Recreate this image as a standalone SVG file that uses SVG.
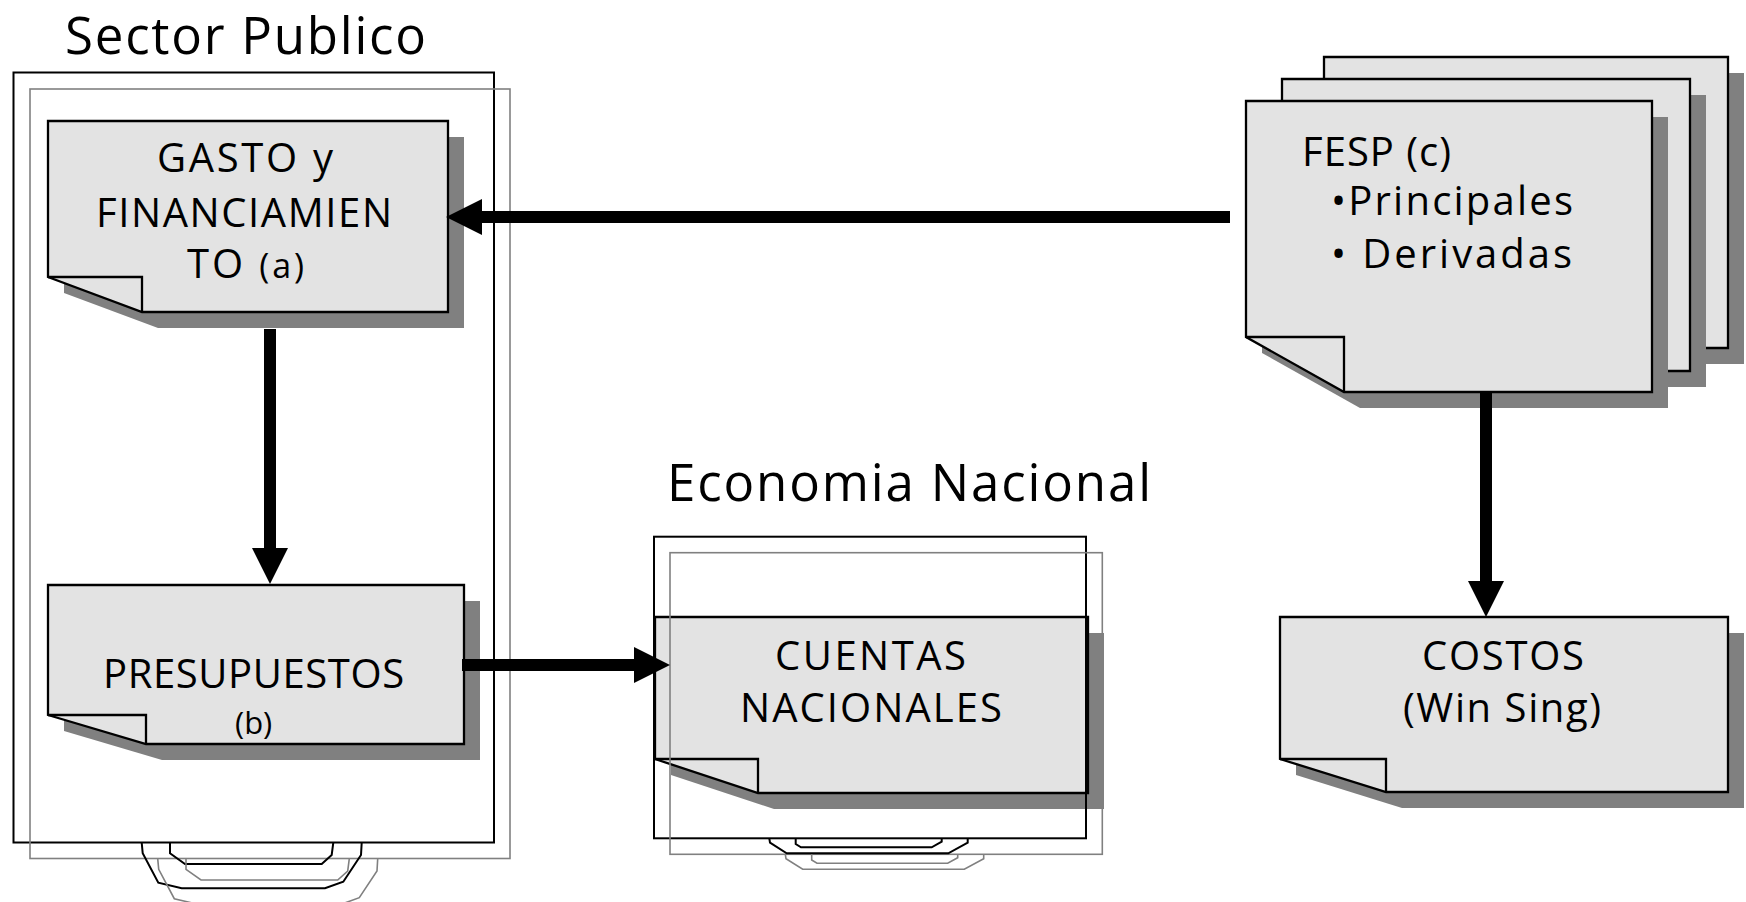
<svg xmlns="http://www.w3.org/2000/svg" width="1746" height="902" viewBox="0 0 1746 902">
<style>
.doc{fill:#e3e3e3;stroke:#000;stroke-width:2.3;stroke-linejoin:miter}
.sh{fill:#808080;stroke:none}
.fold{fill:none;stroke:#000;stroke-width:2.3}
.cb{fill:none;stroke:#000;stroke-width:2}
.cg{fill:none;stroke:#808080;stroke-width:1.6}
.t{font-family:"Open Sans","DejaVu Sans",sans-serif;font-size:40px;fill:#000}
.title{font-size:51px}
.conn line{stroke:#000;stroke-width:12}
</style>
<defs>
<marker id="ah" markerUnits="userSpaceOnUse" markerWidth="36" markerHeight="36" refX="0" refY="18" orient="auto" overflow="visible">
<path d="M0,0 L36,18 L0,36 Z" fill="#000"/>
</marker>
</defs>
<rect width="1746" height="902" fill="#fff"/>

<g id="sector-publico">
<rect class="cb" x="13.5" y="72.5" width="480.5" height="770"/>
<rect class="cg" x="30" y="89" width="480" height="769.5"/>
<polyline class="cb" points="141.7,842.7 142.7,853.3 158.3,882.7 181.7,888.3 325,888.3 343.3,881.7 361,855 361.7,842.7"/>
<polyline class="cb" points="170,842.7 170,853.3 185,864 321.7,864 331.7,855 333.3,842.7"/>
<polyline class="cg" points="157.7,858.7 158.7,869.3 174.3,898.7 197.7,904.3 341,904.3 359.3,897.7 377,871 377.7,858.7"/>
<polyline class="cg" points="186,858.7 186,869.3 201,880 337.7,880 347.7,871 349.3,858.7"/>
<text class="t title" x="65" y="54" textLength="361" lengthAdjust="spacing">Sector Publico</text>
</g>

<g id="gasto">
<path class="sh" d="M64,137 H464 V328 H158 L64,293 Z"/>
<path class="doc" d="M48,121 H448 V312 H142 L48,277 Z"/>
<path class="fold" d="M48,277 H142 V312"/>
<text class="t" x="157" y="172" textLength="176" lengthAdjust="spacing">GASTO y</text>
<text class="t" x="96" y="227" textLength="296" lengthAdjust="spacing">FINANCIAMIEN</text>
<text class="t" x="187" y="278" textLength="117" lengthAdjust="spacing">TO <tspan font-size="34">(a)</tspan></text>
</g>

<g id="presupuestos">
<path class="sh" d="M64,601 H480 V760 H162 L64,731 Z"/>
<path class="doc" d="M48,585 H464 V744 H146 L48,715 Z"/>
<path class="fold" d="M48,715 H146 V744"/>
<text class="t"><tspan x="103" y="688" letter-spacing="0.6">PRESUPUESTOS</tspan><tspan x="235" y="734" font-size="31">(b)</tspan></text>
</g>

<g id="cuentas">
<path class="sh" d="M671,633 H1104 V809 H774 L671,775 Z"/>
<path class="doc" d="M655,617 H1088 V793 H758 L655,759 Z"/>
<path class="fold" d="M655,759 H758 V793"/>
<text class="t" x="775" y="670" textLength="191" lengthAdjust="spacing">CUENTAS</text>
<text class="t" x="740" y="722" textLength="262" lengthAdjust="spacing">NACIONALES</text>
</g>

<g id="economia-nacional">
<rect class="cb" x="654" y="536.7" width="432" height="301.6"/>
<rect class="cg" x="670" y="552.7" width="432.3" height="301.6"/>
<polyline class="cb" points="769.3,838.3 770,842.7 786.7,853.3 948.3,853.3 967.7,842.7 967.7,838.3"/>
<polyline class="cb" points="795.7,838.3 795.7,844 801,847.3 931.7,847.3 941.7,841.7 941.7,838.3"/>
<polyline class="cg" points="785.3,854.3 786,858.7 802.7,869.3 964.3,869.3 983.7,858.7 983.7,854.3"/>
<polyline class="cg" points="811.7,854.3 811.7,860 817,863.3 947.7,863.3 957.7,857.7 957.7,854.3"/>
<text class="t title" x="667" y="501" textLength="484" lengthAdjust="spacing">Economia Nacional</text>
</g>

<g id="fesp">
<path class="sh" d="M1340,73 H1744 V364 H1438 L1340,309 Z"/>
<path class="doc" d="M1324,57 H1728 V348 H1422 L1324,293 Z"/>
<path class="sh" d="M1298,95 H1706 V387 H1396 L1298,332 Z"/>
<path class="doc" d="M1282,79 H1690 V371 H1380 L1282,316 Z"/>
<path class="sh" d="M1262,117 H1668 V408 H1360 L1262,353 Z"/>
<path class="doc" d="M1246,101 H1652 V392 H1344 L1246,337 Z"/>
<path class="fold" d="M1246,337 H1344 V392"/>
<text class="t" x="1302" y="166" textLength="149" lengthAdjust="spacing">FESP (c)</text>
<text class="t" x="1331" y="215" textLength="242" lengthAdjust="spacing">•Principales</text>
<text class="t" x="1331" y="268" textLength="241" lengthAdjust="spacing">• Derivadas</text>
</g>

<g id="costos">
<path class="sh" d="M1296,633 H1744 V808 H1402 L1296,775 Z"/>
<path class="doc" d="M1280,617 H1728 V792 H1386 L1280,759 Z"/>
<path class="fold" d="M1280,759 H1386 V792"/>
<text class="t" x="1422" y="670" textLength="162" lengthAdjust="spacing">COSTOS</text>
<text class="t" x="1403" y="722" textLength="198" lengthAdjust="spacing">(Win Sing)</text>
</g>

<g id="connectors" class="conn">
<line x1="1230" y1="217" x2="482" y2="217" marker-end="url(#ah)"/>
<line x1="270" y1="329" x2="270" y2="548" marker-end="url(#ah)"/>
<line x1="462" y1="665" x2="634" y2="665" marker-end="url(#ah)"/>
<line x1="1486" y1="392" x2="1486" y2="581" marker-end="url(#ah)"/>
</g>
</svg>
